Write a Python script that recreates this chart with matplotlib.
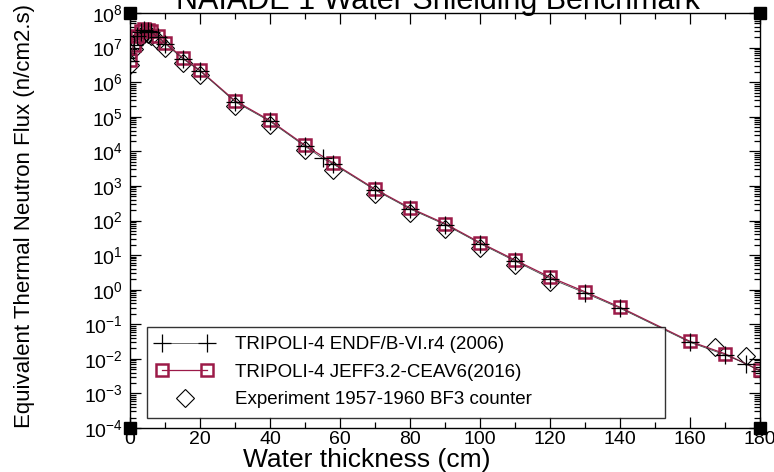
import numpy as np
import matplotlib
matplotlib.use('Agg')
import matplotlib.pyplot as plt
from matplotlib.legend_handler import HandlerLine2D
from matplotlib.ticker import LogLocator, MultipleLocator, NullFormatter

plt.rcParams['font.family'] = ['Liberation Sans', 'DejaVu Sans']
plt.rcParams['mathtext.default'] = 'regular'

# TRIPOLI-4 JEFF3.2-CEAV6 (2016)
x_jeff = [0, 1, 2, 3, 4, 5, 6, 8, 10, 15, 20, 30, 40, 50, 58, 70, 80, 90,
          100, 110, 120, 130, 140, 160, 170, 180]
flux_jeff = [4.3e6, 1.2e7, 2.2e7, 3.0e7, 3.4e7, 3.3e7, 3.0e7, 2.1e7, 1.4e7,
             5.1e6, 2.2e6, 2.9e5, 7.8e4, 1.5e4, 4.6e3, 810, 230, 81, 23,
             7.2, 2.3, 0.87, 0.31, 0.032, 0.014, 0.0046]

# TRIPOLI-4 ENDF/B-VI.r4 (2006)
x_endf = [0, 1, 2, 3, 4, 5, 6, 8, 10, 15, 20, 30, 40, 50, 55, 58, 70, 80,
          90, 100, 110, 120, 130, 140, 160, 170, 176, 180]
flux_endf = [4.1e6, 1.15e7, 2.1e7, 2.9e7, 3.2e7, 3.1e7, 2.8e7, 2.0e7, 1.3e7,
             4.8e6, 2.1e6, 2.7e5, 7.3e4, 1.4e4, 6.3e3, 4.3e3, 760, 215, 76,
             21.5, 6.7, 2.1, 0.80, 0.29, 0.030, 0.013, 0.0072, 0.0044]

# Experiment 1957-1960, BF3 counter
x_exp = [0, 1, 2, 3, 4, 5, 6, 8, 10, 15, 20, 30, 40, 50, 58, 70, 80, 90,
         100, 110, 120, 167, 176]
flux_exp = [3.2e6, 9.0e6, 1.6e7, 2.2e7, 2.5e7, 2.4e7, 2.2e7, 1.5e7, 1.0e7,
            3.7e6, 1.6e6, 2.1e5, 5.6e4, 1.1e4, 2.8e3, 590, 165, 58, 16.5,
            5.2, 1.65, 0.022, 0.012]

jeff_color = '#9c1a48'

fig = plt.figure(figsize=(7.74, 4.72), dpi=100)
# frame spans x 130..760 px, y 13..428 px
ax = fig.add_axes([130 / 774, 1 - 428 / 472, 630 / 774, 415 / 472])

exp_line, = ax.plot(x_exp, flux_exp, linestyle='none', marker='D', ms=9,
                    mfc='none', mec='black', mew=0.8,
                    label='Experiment 1957-1960 BF3 counter')
jeff_line, = ax.plot(x_jeff, flux_jeff, color=jeff_color, lw=0.9, marker='s',
                     ms=9, mfc='none', mec=jeff_color, mew=1.8,
                     label='TRIPOLI-4 JEFF3.2-CEAV6(2016)')
endf_line, = ax.plot(x_endf, flux_endf, color='#333333', lw=0.5, marker='+',
                     ms=13, mec='black', mew=0.9,
                     label='TRIPOLI-4 ENDF/B-VI.r4 (2006)')

# black squares sitting on the frame corners
ax.plot([0, 1, 0, 1], [0, 0, 1, 1], linestyle='none', marker='s', ms=9,
        color='black', transform=ax.transAxes, clip_on=False, zorder=5)

ax.set_yscale('log')
ax.set_xlim(0, 180)
ax.set_ylim(1e-4, 1e8)
ax.xaxis.set_major_locator(MultipleLocator(20))
ax.xaxis.set_minor_locator(MultipleLocator(10))
ax.yaxis.set_major_locator(LogLocator(base=10, numticks=20))
ax.yaxis.set_minor_locator(LogLocator(base=10, subs=np.arange(2, 10), numticks=20))
ax.yaxis.set_minor_formatter(NullFormatter())
ax.tick_params(which='both', direction='in', top=True, right=True, width=0.9)
ax.tick_params(which='major', length=8, labelsize=14)
ax.tick_params(axis='x', which='major', pad=2)
ax.tick_params(axis='y', which='major', pad=5)
ax.tick_params(which='minor', length=4)
for s in ax.spines.values():
    s.set_linewidth(1.0)

ax.set_xlabel('Water thickness (cm)', fontsize=19)
ax.xaxis.set_label_coords(0.376, -0.047)
ax.set_ylabel('Equivalent Thermal Neutron Flux (n/cm2.s)', fontsize=16)
ax.yaxis.set_label_coords(-0.151, 0.51)

fig.text(0.566, 1 - 9 / 472, 'NAIADE 1 Water Shielding Benchmark',
         fontsize=22, ha='center', va='baseline')

leg = ax.legend(handles=[endf_line, jeff_line, exp_line], numpoints=2,
                handler_map={exp_line: HandlerLine2D(numpoints=1)},
                loc='lower left', bbox_to_anchor=(0.027, 0.025, 0.822, 0.2),
                mode='expand', fontsize=13.5, frameon=True, fancybox=False,
                edgecolor='black', handlelength=3.0, handletextpad=1.2,
                labelspacing=0.55, borderpad=0.5, borderaxespad=0)
leg.get_frame().set_linewidth(1.0)

fig.savefig('out.png', dpi=100)
